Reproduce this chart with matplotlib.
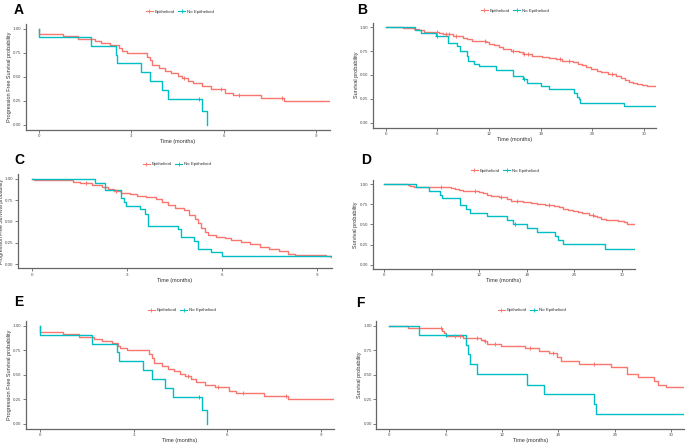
import numpy as np
import matplotlib
matplotlib.use('Agg')
import matplotlib.pyplot as plt
from matplotlib.lines import Line2D

plt.rcParams['font.family'] = ['Liberation Sans', 'DejaVu Sans']

RED = '#F8766D'
TEAL = '#00BFC4'
labels = ['Epithelioid', 'No Epithelioid']

# panel A - progression free survival
A_epi_t = [0, 0.0, 0.78, 1.27, 1.8, 2.0, 2.3, 2.6, 2.7, 2.85, 3.5, 3.62, 3.66, 3.9, 4.1,
           4.3, 4.5, 4.65, 4.85, 5.0, 5.3, 5.6, 6.05, 6.3, 7.2, 7.95, 9.45]
A_epi_s = [1.0, 0.94, 0.92, 0.89, 0.87, 0.85, 0.83, 0.80, 0.77, 0.75, 0.71, 0.67, 0.62, 0.59, 0.56,
           0.54, 0.51, 0.485, 0.46, 0.43, 0.40, 0.37, 0.335, 0.31, 0.28, 0.25, 0.25]
A_epi_cens = [4.7, 5.9, 6.5, 7.9]
A_non_t = [0, 0.0, 1.7, 2.5, 2.53, 3.3, 3.6, 4.0, 4.2, 5.3, 5.45]
A_non_s = [1.0, 0.91, 0.82, 0.73, 0.64, 0.55, 0.455, 0.36, 0.27, 0.14, 0.0]
A_non_cens = [5.2]

# panel B - overall survival
B_epi_t = [0, 2.0, 3.3, 3.9, 4.5, 6.2, 6.6, 7.8, 9.0, 9.4, 10.0, 11.6, 12.0, 12.6, 13.2,
           13.6, 14.5, 15.5, 16.0, 17.0, 18.2, 19.0, 19.8, 20.5, 21.8, 22.3, 22.8, 23.3, 23.8,
           24.6, 25.0, 25.8, 26.8, 27.3, 27.8, 28.3, 28.7, 29.2, 29.8, 30.3, 31.4]
B_epi_s = [1.0, 0.99, 0.98, 0.97, 0.955, 0.935, 0.925, 0.91, 0.89, 0.875, 0.86, 0.85, 0.83, 0.81, 0.79,
           0.77, 0.755, 0.74, 0.72, 0.70, 0.69, 0.68, 0.665, 0.65, 0.635, 0.62, 0.60, 0.58, 0.565,
           0.545, 0.53, 0.515, 0.49, 0.465, 0.45, 0.43, 0.42, 0.405, 0.395, 0.385, 0.385]
B_epi_cens = [5.9, 7.0, 7.4, 8.2, 11.5, 14.8, 16.1, 16.5, 20.3, 21.3, 26.3]
B_non_t = [0, 3.4, 4.1, 5.8, 7.2, 8.3, 8.6, 9.4, 9.6, 10.3, 10.8, 12.8, 14.8, 15.9, 16.4,
           18.0, 19.0, 21.9, 22.2, 22.4, 22.6, 27.7, 31.4]
B_non_s = [1.0, 0.97, 0.94, 0.91, 0.84, 0.80, 0.75, 0.70, 0.65, 0.62, 0.59, 0.55, 0.49, 0.455, 0.42,
           0.38, 0.35, 0.31, 0.27, 0.25, 0.21, 0.18, 0.18]
B_non_cens = [6.0, 16.1]

# panel C - progression free survival
C_epi_t = [0, 0.05, 0.8, 1.3, 1.5, 1.9, 2.2, 2.4, 2.6, 2.8, 3.1, 3.3, 3.6, 3.9, 4.1,
           4.3, 4.5, 4.8, 4.95, 5.15, 5.25, 5.35, 5.45, 5.55, 5.8, 6.1, 6.3, 6.6, 6.9, 7.2,
           7.5, 7.8, 8.1, 8.3, 9.3, 9.45]
C_epi_s = [1.0, 0.99, 0.98, 0.96, 0.945, 0.92, 0.90, 0.88, 0.86, 0.83, 0.82, 0.80, 0.78, 0.76, 0.73,
           0.69, 0.66, 0.63, 0.57, 0.53, 0.48, 0.42, 0.37, 0.34, 0.32, 0.30, 0.28, 0.26, 0.23, 0.20,
           0.18, 0.15, 0.12, 0.11, 0.09, 0.08]
C_epi_cens = [1.7, 2.65]
C_non_t = [0, 2.0, 2.3, 2.8, 2.9, 2.95, 3.4, 3.58, 3.66, 4.6, 4.7, 5.1, 5.25, 5.65, 6.0, 9.45]
C_non_s = [1.0, 0.95, 0.87, 0.77, 0.73, 0.68, 0.64, 0.59, 0.45, 0.41, 0.32, 0.27, 0.18, 0.14, 0.09, 0.09]
C_non_cens = []

# panel D - overall survival
D_epi_t = [0, 3.0, 3.3, 3.8, 8.5, 9.0, 9.5, 10.0, 12.0, 12.5, 13.0, 13.5, 14.5, 15.5, 16.0,
           17.5, 18.5, 19.3, 20.3, 21.4, 22.0, 22.6, 23.2, 23.8, 24.4, 25.0, 25.8, 26.4, 26.8,
           27.3, 28.0, 28.7, 29.5, 30.2, 30.6, 31.0, 31.6]
D_epi_s = [1.0, 0.985, 0.97, 0.96, 0.95, 0.94, 0.925, 0.91, 0.90, 0.89, 0.87, 0.85, 0.835, 0.81, 0.79,
           0.78, 0.765, 0.755, 0.74, 0.73, 0.71, 0.695, 0.68, 0.665, 0.65, 0.635, 0.62, 0.60, 0.585,
           0.57, 0.56, 0.55, 0.54, 0.525, 0.51, 0.50, 0.50]
D_epi_cens = [7.2, 11.5, 14.7, 16.7, 20.8, 26.3]
D_non_t = [0, 4.0, 5.7, 7.0, 7.3, 9.6, 10.3, 10.8, 13.0, 15.5, 16.3, 18.0, 19.3, 21.6, 21.9,
           22.6, 27.9, 31.6]
D_non_s = [1.0, 0.96, 0.915, 0.87, 0.825, 0.735, 0.69, 0.64, 0.60, 0.55, 0.505, 0.455, 0.41, 0.36, 0.31,
           0.255, 0.20, 0.20]
D_non_cens = [16.5]

# panel E - progression free survival
E_epi_t = [0, 0.0, 0.75, 1.25, 1.74, 2.0, 2.3, 2.5, 2.58, 2.78, 3.5, 3.6, 3.66, 3.9, 4.1,
           4.3, 4.5, 4.65, 4.85, 5.0, 5.3, 5.6, 6.05, 6.3, 7.2, 7.95, 9.45]
E_epi_s = [1.0, 0.94, 0.92, 0.89, 0.87, 0.85, 0.83, 0.80, 0.77, 0.75, 0.71, 0.67, 0.62, 0.59, 0.56,
           0.54, 0.51, 0.485, 0.46, 0.43, 0.40, 0.37, 0.335, 0.31, 0.28, 0.25, 0.25]
E_epi_cens = [4.75, 5.7, 6.5, 7.9]
E_non_t = [0, 0.0, 1.66, 2.48, 2.53, 3.3, 3.6, 4.0, 4.26, 5.2, 5.35]
E_non_s = [1.0, 0.91, 0.82, 0.73, 0.64, 0.55, 0.455, 0.36, 0.27, 0.14, 0.0]
E_non_cens = [5.1]

# panel F - overall survival
F_epi_t = [0, 2.0, 5.6, 5.8, 6.0, 7.9, 9.8, 10.1, 10.4, 11.9, 14.4, 15.9, 17.0, 17.9, 18.3,
           20.2, 23.6, 25.3, 26.5, 28.2, 28.6, 29.4, 31.4]
F_epi_s = [1.0, 0.975, 0.95, 0.93, 0.90, 0.88, 0.86, 0.85, 0.82, 0.79, 0.775, 0.74, 0.72, 0.68, 0.64,
           0.61, 0.575, 0.51, 0.475, 0.44, 0.40, 0.37, 0.37]
F_epi_cens = [5.5, 7.0, 7.5, 9.3, 10.2, 11.2, 15.0, 17.4, 21.8]
F_non_t = [0, 3.2, 8.2, 8.4, 8.6, 9.3, 14.7, 16.5, 21.8, 22.0, 31.4]
F_non_s = [1.0, 0.905, 0.81, 0.71, 0.61, 0.505, 0.40, 0.30, 0.20, 0.10, 0.10]
F_non_cens = [6.0]

short_ticks = [0, 3, 6, 9]
long_ticks = [0, 6, 12, 18, 24, 30]
pfs_label = 'Progression Free Survival probability'
os_label = 'Survival probability'

W, H = 685, 443
fig = plt.figure(figsize=(W / 100, H / 100), dpi=100)


def draw_curve(ax, t, s, cens, color):
    t = np.asarray(t)
    s = np.asarray(s)
    ax.step(t, s, where='post', color=color, lw=1.0, zorder=3)
    if len(cens):
        idx = np.searchsorted(t, cens, side='right') - 1
        ax.plot(cens, s[idx], ls='none', marker='+', ms=3.5, mew=0.7, color=color, zorder=4)


def panel(box, xlim, xticks, ylabel, letter, letter_xy, legend_xy, epi, non, ylab_size=4.0):
    left, top, right, bottom = box
    ax = fig.add_axes([left / W, 1 - bottom / H, (right - left) / W, (bottom - top) / H])
    draw_curve(ax, *epi, RED)
    draw_curve(ax, *non, TEAL)
    ax.set_xlim(*xlim)
    ax.set_ylim(-0.05, 1.05)
    ax.set_xticks(xticks)
    ax.set_yticks([0, 0.25, 0.5, 0.75, 1.0])
    ax.set_yticklabels(['0.00', '0.25', '0.50', '0.75', '1.00'])
    for sp in ['top', 'right']:
        ax.spines[sp].set_visible(False)
    for sp in ['left', 'bottom']:
        ax.spines[sp].set_color('#666666')
        ax.spines[sp].set_linewidth(0.9)
    ax.tick_params(labelsize=3.2, length=2, width=0.6, color='#666666',
                   labelcolor='#4D4D4D', pad=1.2)
    ax.set_xlabel('Time (months)', fontsize=4.0, color='#333333', labelpad=0.8)
    ax.set_ylabel(ylabel, fontsize=ylab_size, color='#333333', labelpad=1.0)
    fig.text(letter_xy[0] / W, 1 - letter_xy[1] / H, letter, fontsize=10,
             fontweight='bold', ha='left', va='center')
    handles = [Line2D([], [], color=RED, lw=0.8, marker='+', ms=3, mew=0.6),
               Line2D([], [], color=TEAL, lw=0.8, marker='+', ms=3, mew=0.6)]
    fig.legend(handles, labels, loc='center', ncol=2, frameon=False, fontsize=3.2,
               bbox_to_anchor=(legend_xy[0] / W, 1 - legend_xy[1] / H),
               handlelength=1.6, handletextpad=0.4, columnspacing=0.8,
               labelcolor='#333333')
    return ax


panel((26, 23.9, 330, 129.5), (-0.43, 9.46), short_ticks, pfs_label, 'A', (14, 10.5), (180, 12),
      (A_epi_t, A_epi_s, A_epi_cens), (A_non_t, A_non_s, A_non_cens))
panel((373, 22.5, 656, 127.5), (-1.48, 31.4), long_ticks, os_label, 'B', (357, 9.5), (515, 10.5),
      (B_epi_t, B_epi_s, B_epi_cens), (B_non_t, B_non_s, B_non_cens))
panel((18, 174.4, 331.7, 268.3), (-0.45, 9.47), short_ticks, pfs_label, 'C', (14, 160), (177, 164),
      (C_epi_t, C_epi_s, C_epi_cens), (C_non_t, C_non_s, C_non_cens), ylab_size=3.7)
panel((372.7, 180, 634.7, 268.7), (-1.43, 31.6), long_ticks, os_label, 'D', (361, 160), (505, 170.5),
      (D_epi_t, D_epi_s, D_epi_cens), (D_non_t, D_non_s, D_non_cens))
panel((26, 321.1, 334, 428.5), (-0.45, 9.43), short_ticks, pfs_label, 'E', (14, 302), (182, 310),
      (E_epi_t, E_epi_s, E_epi_cens), (E_non_t, E_non_s, E_non_cens))
panel((376.3, 321.1, 684.3, 428.5), (-1.38, 31.4), long_ticks, os_label, 'F', (356, 303), (532, 310),
      (F_epi_t, F_epi_s, F_epi_cens), (F_non_t, F_non_s, F_non_cens))

fig.savefig('out.png', dpi=100, facecolor='white')
